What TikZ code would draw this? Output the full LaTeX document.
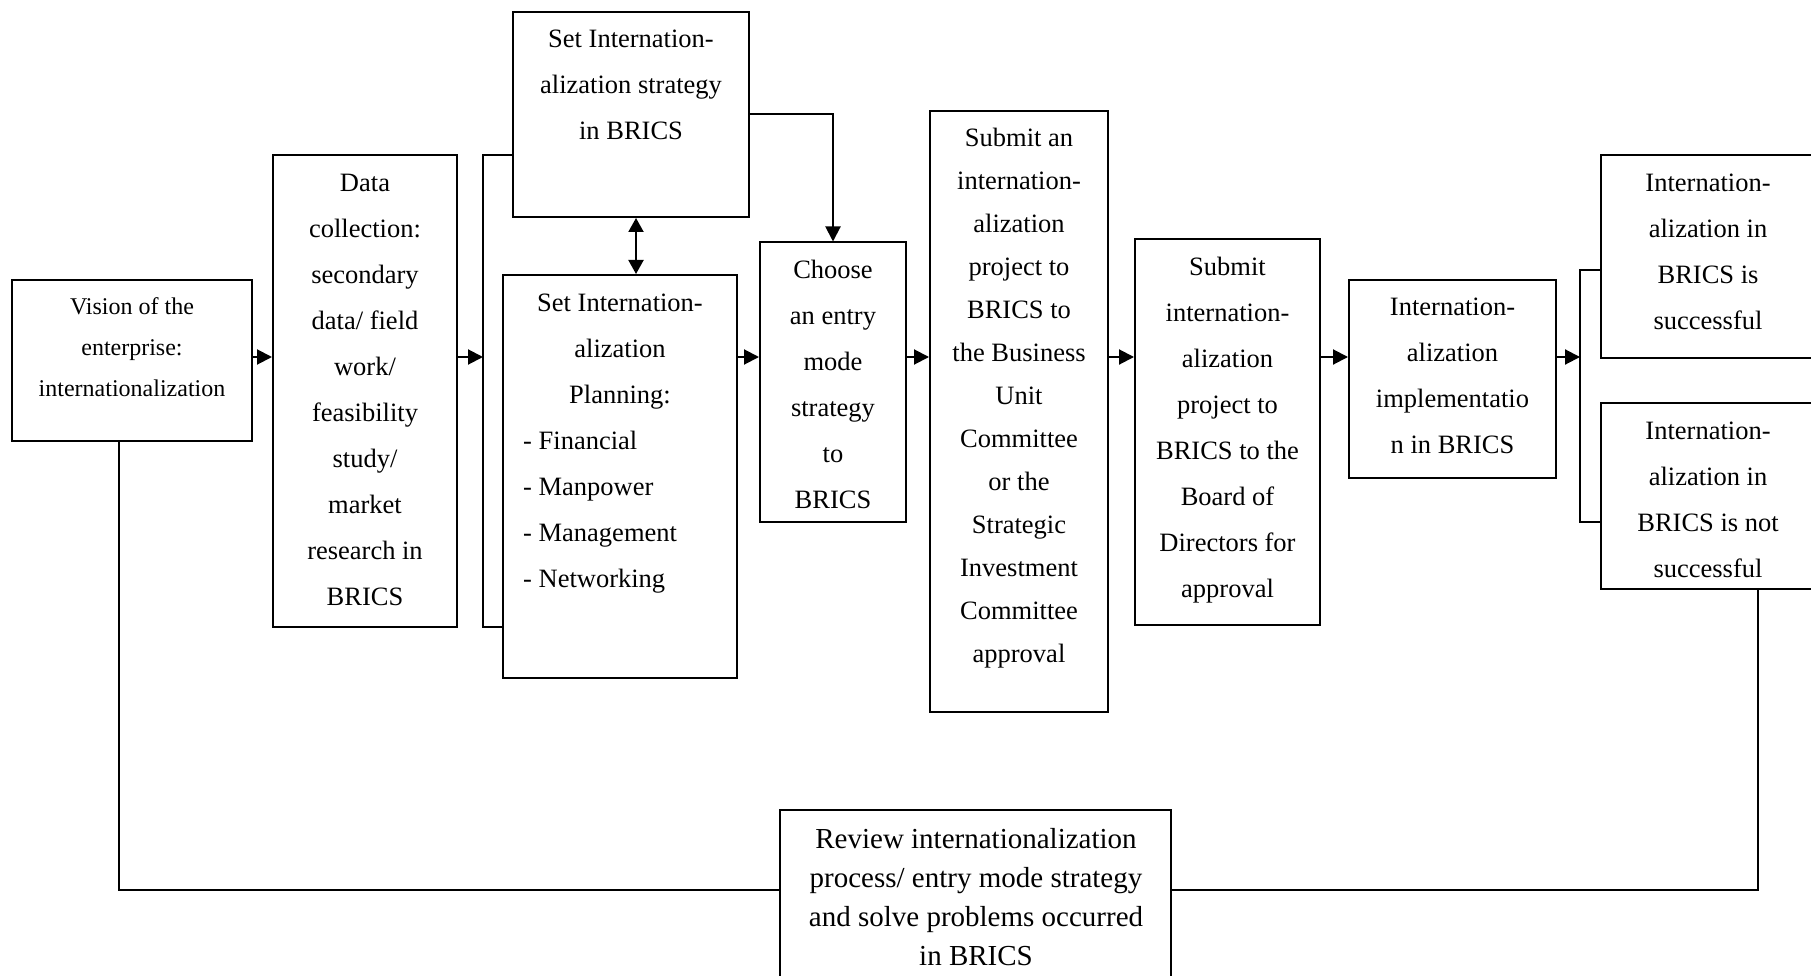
\documentclass[tikz,border=0pt]{standalone}
\usepackage{fontspec}
\setmainfont{Liberation Serif}
\usetikzlibrary{arrows.meta}
\begin{document}
\begin{tikzpicture}[x=1pt,y=-1pt,
  box/.style={draw, line width=2pt, inner sep=0pt},
  txt/.style={inner sep=0pt, align=center, font=\fontsize{26.5}{46}\selectfont},
  txtc/.style={inner sep=0pt, align=center, font=\fontsize{26.5}{43}\selectfont},
  txtv/.style={inner sep=0pt, align=center, font=\fontsize{24}{41}\selectfont},
  txtr/.style={inner sep=0pt, align=center, font=\fontsize{29}{39}\selectfont},
  txtl/.style={inner sep=0pt, align=left, font=\fontsize{26.5}{46}\selectfont},
  line/.style={line width=2pt},
  arr/.style={line width=2pt, -{Triangle[length=15pt,width=15pt]}},
  darr/.style={line width=2pt, {Triangle[length=14pt,width=15pt]}-{Triangle[length=14pt,width=15pt]}}]
\useasboundingbox (0,0) rectangle (1811,976);
\clip (0,0) rectangle (1811,976);

% boxes
\node[box, minimum width=240, minimum height=161] (vision) at (132,360.5) {};
\node[box, minimum width=184, minimum height=472] (data) at (365,391) {};
\node[box, minimum width=236, minimum height=205] (strat) at (631,114.5) {};
\node[box, minimum width=234, minimum height=403] (plan) at (620,476.5) {};
\node[box, minimum width=146, minimum height=279.5] (choose) at (833,382.25) {};
\node[box, minimum width=178, minimum height=600.5] (sub1) at (1019,411.25) {};
\node[box, minimum width=185, minimum height=386] (sub2) at (1227.5,432) {};
\node[box, minimum width=207, minimum height=198] (impl) at (1452.5,379) {};
\node[box, minimum width=214, minimum height=203] (succ) at (1708,256.5) {};
\node[box, minimum width=214, minimum height=186] (fail) at (1708,496) {};
\node[box, minimum width=391.4, minimum height=190.4] (review) at (975.3,904.8) {};

% texts
\node[txtv] (vision-t) at (132,347) {\strut Vision of the\\enterprise:\\internationalization\strut};
\node[txt] (data-t) at (365,389.5) {\strut Data\\collection:\\secondary\\data/ field\\work/\\feasibility\\study/\\market\\research in\\BRICS\strut};
\node[txt] (strat-t) at (631,84) {\strut Set Internation-\\alization strategy\\in BRICS\strut};
\node[txt] (plan-t) at (620,348) {\strut Set Internation-\\alization\\Planning:\strut};
\node[txtl, anchor=west] (plan-i) at (523,509) {\strut - Financial\\- Manpower\\- Management\\- Networking\strut};
\node[txt] (choose-t) at (833,384.5) {\strut Choose\\an entry\\mode\\strategy\\to\\BRICS\strut};
\node[txtc] (sub1-t) at (1019,396) {\strut Submit an\\internation-\\alization\\project to\\BRICS to\\the Business\\Unit\\Committee\\or the\\Strategic\\Investment\\Committee\\approval\strut};
\node[txt] (sub2-t) at (1227.5,427) {\strut Submit\\internation-\\alization\\project to\\BRICS to the\\Board of\\Directors for\\approval\strut};
\node[txt] (impl-t) at (1452.5,375.5) {\strut Internation-\\alization\\implementatio\\n in BRICS\strut};
\node[txt] (succ-t) at (1708,251.5) {\strut Internation-\\alization in\\BRICS is\\successful\strut};
\node[txt] (fail-t) at (1708,499.5) {\strut Internation-\\alization in\\BRICS is not\\successful\strut};
\node[txtr] (review-t) at (976,899) {\strut Review internationalization\\process/ entry mode strategy\\and solve problems occurred\\in BRICS\strut};

% helper coordinates
\coordinate (main) at (0,357);
\coordinate (b1t) at (483,155);
\coordinate (b1b) at (483,627);
\coordinate (b2t) at (1580,270);
\coordinate (b2b) at (1580,522);
\coordinate (dbl) at (636,0);
\coordinate (fbl) at (119,890);
\coordinate (fbr) at (1758,890);

% connectors
\draw[arr] (vision.east |- main) -- (data.west |- main);
\draw[arr] (data.east |- main) -- (b1t |- main);
\draw[line] (strat.west |- b1t) -- (b1t) -- (b1b) -- (plan.west |- b1b);
\draw[darr] (strat.south -| dbl) -- (plan.north -| dbl);
\draw[arr] (strat.east) -| (choose.north);
\draw[arr] (plan.east |- main) -- (choose.west |- main);
\draw[arr] (choose.east |- main) -- (sub1.west |- main);
\draw[arr] (sub1.east |- main) -- (sub2.west |- main);
\draw[arr] (sub2.east |- main) -- (impl.west |- main);
\draw[arr] (impl.east |- main) -- (b2t |- main);
\draw[line] (succ.west |- b2t) -- (b2t) -- (b2b) -- (fail.west |- b2b);
\draw[line] (vision.south -| fbl) -- (fbl) -- (review.west |- fbl);
\draw[line] (fail.south -| fbr) -- (fbr) -- (review.east |- fbr);
\end{tikzpicture}
\end{document}
